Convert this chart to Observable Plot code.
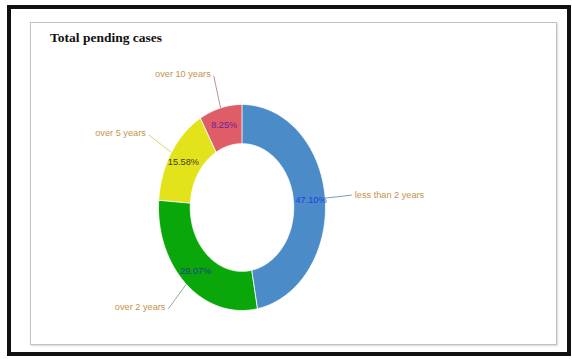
<!DOCTYPE html>
<html>
<head>
<meta charset="utf-8">
<script src="https://cdn.jsdelivr.net/npm/d3@7"></script>
<script src="https://cdn.jsdelivr.net/npm/@observablehq/plot@0.6"></script>
<style>
  html, body { margin: 0; padding: 0; background: #fff; width: 572px; height: 359px; overflow: hidden; }
  #frame { position: absolute; left: 7px; top: 5px; width: 564px; height: 351px; box-sizing: border-box; border: 4px solid #111; }
  #panel { position: absolute; left: 30px; top: 22px; width: 527px; height: 323px; box-sizing: border-box; border: 1px solid #c2c2c2; box-shadow: 1px 1px 2px #d8d8d8; }
  #title { position: absolute; left: 50px; top: 30px; font: bold 13.5px "Liberation Serif", "DejaVu Serif", serif; color: #111; }
  #chart { position: absolute; left: 0; top: 0; }
</style>
</head>
<body>
<div id="frame"></div>
<div id="panel"></div>
<div id="title">Total pending cases</div>
<div id="chart"></div>
<script>
// ---- data ----
const categories = ["less than 2 years", "over 2 years", "over 5 years", "over 10 years"];
const shares = [47.10, 29.07, 15.58, 8.25];
const pctLabels = ["47.10%", "29.07%", "15.58%", "8.25%"];
const sliceColors = ["#4a8bc8", "#0aa70a", "#e3e31c", "#de5d66"];
const pctColors = ["#1f3fe0", "#1c3f8c", "#3d3d1a", "#6a1fa0"];
const leaderColors = ["#7f9cba", "#8fb08f", "#d6d66e", "#c68d9c"];
const labelColor = "#c8924a";

// ---- geometry derived from data ----
const innerR = 0.62, outerR = 1, pctR = 0.83, leadR = 1.32;
const arcs = d3.pie().sort(null).value(d => d)(shares);
const pt = (r, a) => ({x: r * Math.sin(a), y: r * Math.cos(a)});

const polys = [];
arcs.forEach((a, i) => {
  const n = Math.max(4, Math.ceil((a.endAngle - a.startAngle) / (Math.PI / 180)));
  for (let k = 0; k <= n; k++) {
    const t = a.startAngle + (a.endAngle - a.startAngle) * k / n;
    polys.push({...pt(outerR, t), slice: i, color: sliceColors[i]});
  }
  for (let k = n; k >= 0; k--) {
    const t = a.startAngle + (a.endAngle - a.startAngle) * k / n;
    polys.push({...pt(innerR, t), slice: i, color: sliceColors[i]});
  }
});

const labels = arcs.map((a, i) => {
  const m = (a.startAngle + a.endAngle) / 2;
  const p = pt(pctR, m), o = pt(outerR, m), l = pt(leadR, m);
  return {
    px: p.x, py: p.y, pct: pctLabels[i], pctColor: pctColors[i],
    x1: o.x, y1: o.y, x2: l.x, y2: l.y,
    name: categories[i], right: Math.sin(m) >= 0, lead: leaderColors[i]
  };
});

const font = "Liberation Sans, Arial, sans-serif";
const chart = Plot.plot({
  width: 572,
  height: 359,
  margin: 0,
  style: {background: "transparent", overflow: "visible"},
  x: {domain: [-1, 1], range: [158, 325], axis: null},
  y: {domain: [-1, 1], range: [310, 104], axis: null},
  color: {type: "identity"},
  marks: [
    Plot.line(polys, {x: "x", y: "y", z: "slice", fill: "color", stroke: "#ffffff", strokeWidth: 0.8, curve: "linear-closed"}),
    Plot.link(labels, {x1: "x1", y1: "y1", x2: "x2", y2: "y2", stroke: "lead", strokeWidth: 1}),
    Plot.text(labels.filter(d => d.right), {x: "x2", y: "y2", text: "name", fill: labelColor, textAnchor: "start", dx: 3, fontSize: 9.2, fontFamily: font}),
    Plot.text(labels.filter(d => !d.right), {x: "x2", y: "y2", text: "name", fill: labelColor, textAnchor: "end", dx: -3, dy: -2, fontSize: 9.2, fontFamily: font}),
    Plot.text(labels, {x: "px", y: "py", text: "pct", fill: "pctColor", fontSize: 9.2, fontFamily: font})
  ]
});
document.getElementById("chart").appendChild(chart);
</script>
</body>
</html>
